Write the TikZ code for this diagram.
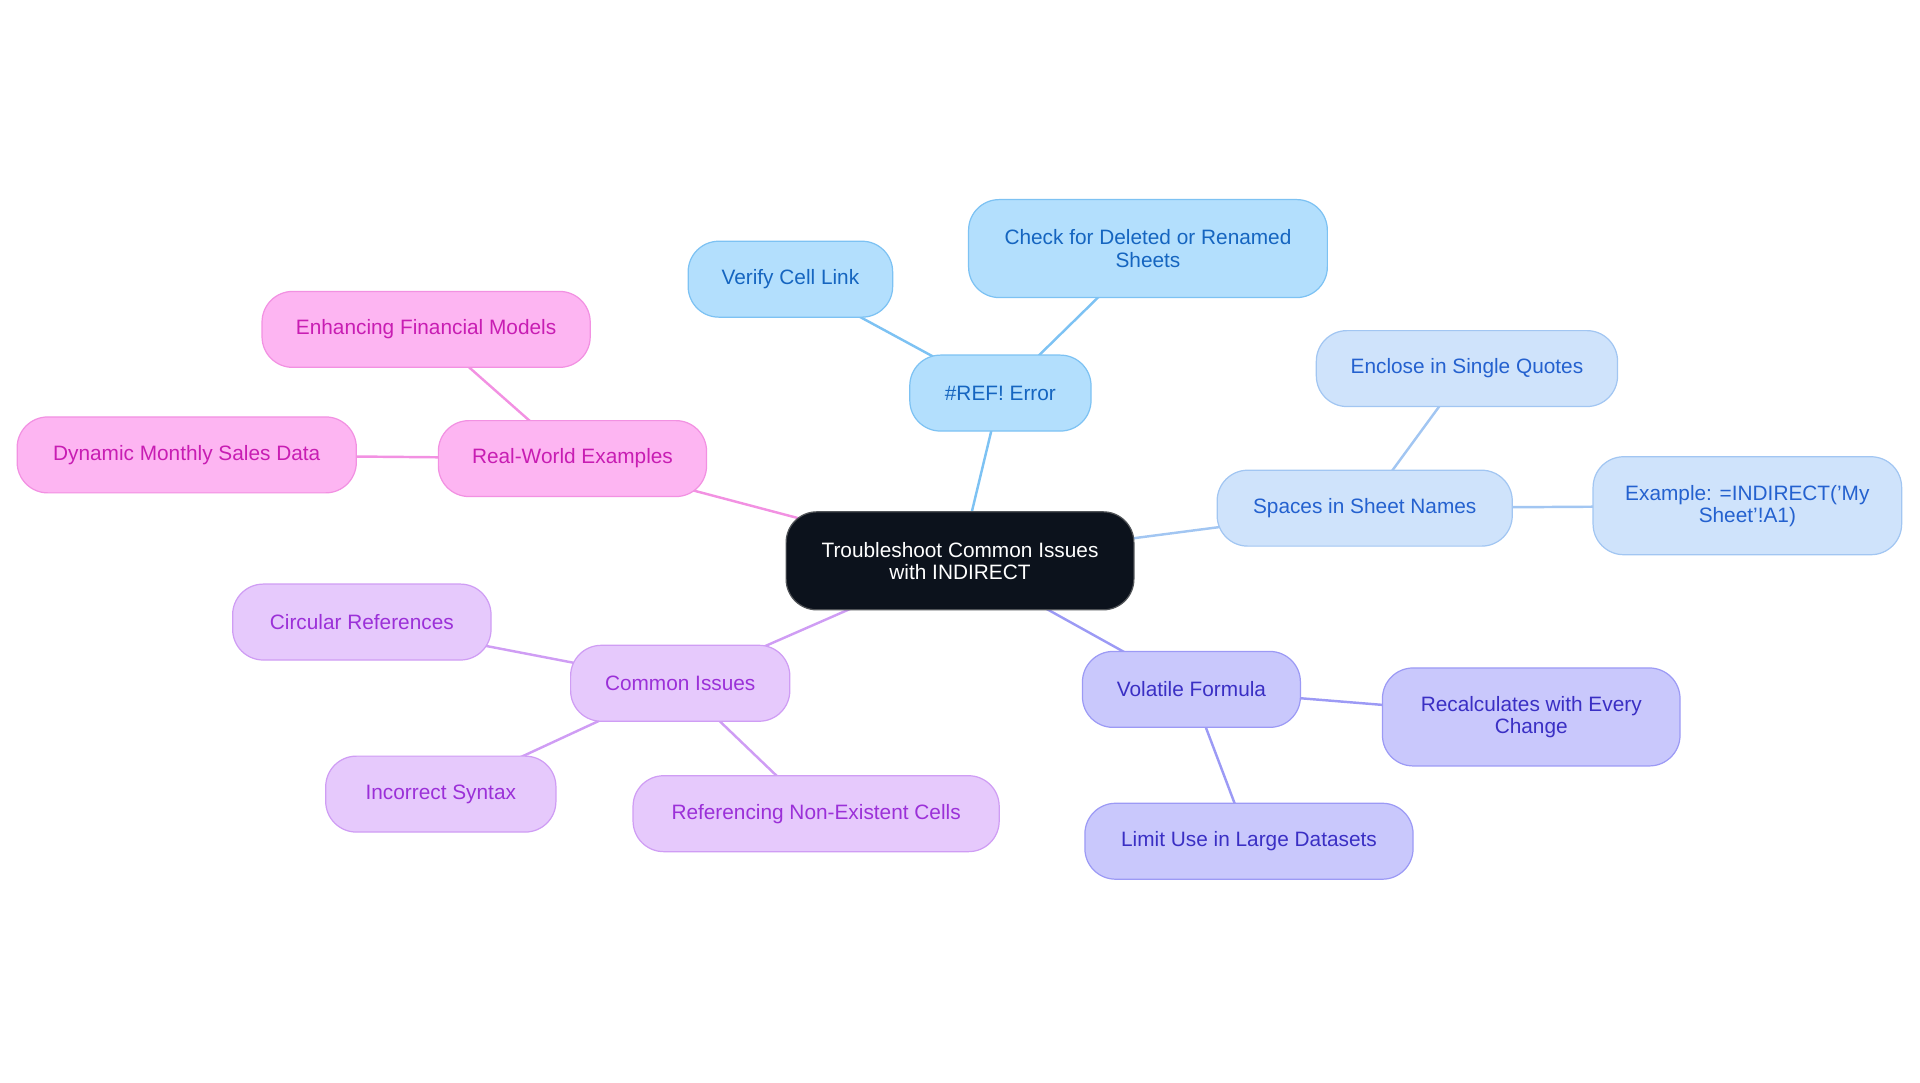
\documentclass[tikz,border=0pt]{standalone}
\usepackage{fontspec}
\setmainfont{Liberation Sans}
\usetikzlibrary{positioning,backgrounds}

\definecolor{rootfill}{HTML}{0C121C}
\definecolor{skyfill}{HTML}{B3DFFD}
\definecolor{skyline}{HTML}{7DC2F3}
\definecolor{skytext}{HTML}{1565C0}
\definecolor{palefill}{HTML}{CFE3FB}
\definecolor{paleline}{HTML}{A2C6F2}
\definecolor{paletext}{HTML}{2461CF}
\definecolor{lavfill}{HTML}{C9C8FC}
\definecolor{lavline}{HTML}{9C9AF5}
\definecolor{lavtext}{HTML}{3A2FC4}
\definecolor{lilfill}{HTML}{E6C9FC}
\definecolor{lilline}{HTML}{CF9DF4}
\definecolor{liltext}{HTML}{9B30D8}
\definecolor{pinkfill}{HTML}{FDB5F2}
\definecolor{pinkline}{HTML}{F291E2}
\definecolor{pinktext}{HTML}{C81DB3}

\begin{document}
\begin{tikzpicture}[
x=1pt,
y=-1pt,
topic/.style={
  draw,
  rounded corners=25pt,
  align=center,
  inner xsep=20pt,
  inner ysep=2pt,
  minimum height=62pt,
  line width=1pt,
  font=\fontsize{17}{18}\selectfont
  },
tall/.style={minimum height=80pt},
root/.style={topic, fill=rootfill, draw=gray!60!rootfill, text=white},
sky/.style={topic, fill=skyfill, draw=skyline, text=skytext},
pale/.style={topic, fill=palefill, draw=paleline, text=paletext},
lav/.style={topic, fill=lavfill, draw=lavline, text=lavtext},
lil/.style={topic, fill=lilfill, draw=lilline, text=liltext},
pink/.style={topic, fill=pinkfill, draw=pinkline, text=pinktext},
link/.style={line width=2pt}
]
\useasboundingbox (0,0) rectangle (1568,884);

% centre
\node[root, tall, minimum width=284pt] (root) at (784,458) {Troubleshoot Common Issues\\with INDIRECT};

% #REF! branch
\node[sky, minimum width=148pt] (ref) at (817,321) {\#REF! Error};
\node[sky, minimum width=167pt] (verify) at (645.5,228) {Verify Cell Link};
\node[sky, tall, minimum width=293pt] (deleted) at (937.5,203) {Check for Deleted or Renamed\\Sheets};

% spaces branch
\node[pale, minimum width=241pt] (spaces) at (1114.5,415) {Spaces in Sheet Names};
\node[pale, minimum width=246pt] (quotes) at (1198,301) {Enclose in Single Quotes};
\node[pale, tall, minimum width=252pt] (example) at (1427,413) {Example: =INDIRECT('My\\Sheet'!A1)};

% volatile branch
\node[lav, minimum width=178pt] (volatile) at (973,563) {Volatile Formula};
\node[lav, tall, minimum width=243pt] (recalc) at (1250.5,585.5) {Recalculates with Every\\Change};
\node[lav, minimum width=268pt] (limit) at (1020,687) {Limit Use in Large Datasets};

% common issues branch
\node[lil, minimum width=179pt] (common) at (555.5,558) {Common Issues};
\node[lil, minimum width=211pt] (circular) at (295.5,508) {Circular References};
\node[lil, minimum width=188pt] (syntax) at (360,648.5) {Incorrect Syntax};
\node[lil, minimum width=299pt] (nonexist) at (666.5,664.5) {Referencing Non-Existent Cells};

% examples branch
\node[pink, minimum width=219pt] (real) at (467.5,374.5) {Real-World Examples};
\node[pink, minimum width=268pt] (finance) at (348,269) {Enhancing Financial Models};
\node[pink, minimum width=277pt] (sales) at (152.5,371.5) {Dynamic Monthly Sales Data};

\begin{scope}[on background layer]
\draw[link, skyline] (root.center) -- (ref.center);
\foreach \leaf in {verify,deleted}
  \draw[link, skyline] (ref.center) -- (\leaf.center);
\draw[link, paleline] (root.center) -- (spaces.center);
\foreach \leaf in {quotes,example}
  \draw[link, paleline] (spaces.center) -- (\leaf.center);
\draw[link, lavline] (root.center) -- (volatile.center);
\foreach \leaf in {recalc,limit}
  \draw[link, lavline] (volatile.center) -- (\leaf.center);
\draw[link, lilline] (root.center) -- (common.center);
\foreach \leaf in {circular,syntax,nonexist}
  \draw[link, lilline] (common.center) -- (\leaf.center);
\draw[link, pinkline] (root.center) -- (real.center);
\foreach \leaf in {finance,sales}
  \draw[link, pinkline] (real.center) -- (\leaf.center);
\end{scope}

\end{tikzpicture}
\end{document}
